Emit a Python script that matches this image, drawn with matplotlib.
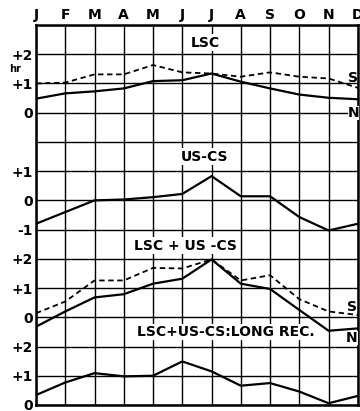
import matplotlib
matplotlib.use("Agg")
import matplotlib.pyplot as plt

months = ["J", "F", "M", "A", "M", "J", "J", "A", "S", "O", "N", "D"]

# LSC panel (hr)
lsc_n = [0.48, 0.66, 0.73, 0.83, 1.08, 1.11, 1.34, 1.06, 0.83, 0.62, 0.51, 0.46]
lsc_s = [1.00, 1.03, 1.31, 1.31, 1.63, 1.38, 1.34, 1.23, 1.38, 1.23, 1.17, 0.85]

# US-CS panel
us_cs = [-0.80, -0.40, 0.00, 0.03, 0.11, 0.22, 0.83, 0.14, 0.14, -0.57, -1.03, -0.80]

# LSC + US-CS panel
sum_n = [-0.32, 0.20, 0.68, 0.79, 1.15, 1.32, 1.98, 1.15, 0.97, 0.25, -0.46, -0.38]
sum_s = [0.14, 0.54, 1.26, 1.26, 1.69, 1.67, 1.98, 1.26, 1.44, 0.62, 0.20, 0.08]

# LSC + US-CS : long record
long_rec = [0.34, 0.77, 1.09, 0.98, 1.00, 1.49, 1.15, 0.66, 0.75, 0.46, 0.06, 0.31]

# vertical offset of each panel's zero line in grid units
off_lsc, off_us, off_sum, off_long = 10, 7, 3, 0

ytick_pos = [12, 11, 10, 8, 7, 6, 5, 4, 3, 2, 1, 0]
ytick_lab = ["+2", "+1", "0", "+1", "0", "-1", "+2", "+1", "0", "+2", "+1", "0"]

fig = plt.figure(figsize=(3.6, 4.11), dpi=100)
ax = fig.add_axes([0.1, 0.0146, 0.894, 0.9246])

x = list(range(12))
lw = 1.6


def shift(vals, off):
    return [v + off for v in vals]


ax.plot(x, shift(lsc_n, off_lsc), color="black", lw=lw, zorder=3)
ax.plot(x, shift(lsc_s, off_lsc), color="black", lw=1.3, ls=(0, (3, 2)), zorder=3)
ax.plot(x, shift(us_cs, off_us), color="black", lw=lw, zorder=3)
ax.plot(x, shift(sum_n, off_sum), color="black", lw=lw, zorder=3)
ax.plot(x, shift(sum_s, off_sum), color="black", lw=1.3, ls=(0, (3, 2)), zorder=3)
ax.plot(x, shift(long_rec, off_long), color="black", lw=lw, zorder=3)

ax.set_xlim(0, 11)
ax.set_ylim(0, 13)
ax.set_xticks(x)
ax.set_xticklabels(months, fontweight="bold", fontsize=10)
ax.xaxis.tick_top()
ax.set_yticks(ytick_pos)
ax.set_yticklabels(ytick_lab, fontweight="bold", fontsize=10)
ax.set_yticks(range(14), minor=True)
ax.tick_params(length=0, pad=2)
ax.tick_params(which="minor", length=0)
ax.grid(True, which="both", color="black", lw=1.0)
ax.set_axisbelow(True)
for sp in ax.spines.values():
    sp.set_linewidth(1.8)

box = dict(facecolor="white", edgecolor="none", pad=1)
txt = dict(fontweight="bold", fontsize=10, ha="center", va="center", zorder=4)
ax.text(5.77, 12.4, "LSC", bbox=box, **txt)
ax.text(5.77, 8.5, "US-CS", bbox=box, **txt)
ax.text(5.1, 5.45, "LSC + US -CS", bbox=box, **txt)
ax.text(6.5, 2.5, "LSC+US-CS:LONG REC.", bbox=box, **txt)

lab = dict(fontweight="bold", fontsize=10, ha="center", va="center", zorder=4)
ax.text(10.85, 11.2, "S", **lab)
ax.text(10.85, 10.0, "N", bbox=dict(facecolor="white", edgecolor="none", pad=0), **lab)
ax.text(10.8, 3.35, "S", **lab)
ax.text(10.8, 2.3, "N", bbox=dict(facecolor="white", edgecolor="none", pad=0), **lab)

fig.text(0.025, 0.833, "hr", fontweight="bold", fontsize=7, ha="left", va="center")

fig.savefig("out.png", dpi=100)
